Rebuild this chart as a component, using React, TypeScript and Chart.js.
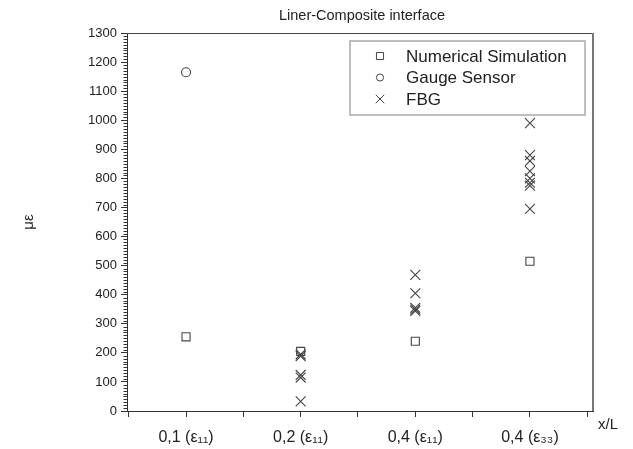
import React, { useEffect, useRef } from 'react';
import { Chart, registerables } from 'chart.js';

Chart.register(...registerables);

const chartTitle = 'Liner-Composite interface';
const xAxisLabel = 'x/L';
const yAxisLabel = 'με';
const categories = ['0,1 (ε₁₁)', '0,2 (ε₁₁)', '0,4 (ε₁₁)', '0,4 (ε₃₃)'];
const seriesNames = ['Numerical Simulation', 'Gauge Sensor', 'FBG'];
const numericalSimulation = [255, 205, 240, 515];
const gaugeSensor: (number | null)[] = [1165, null, null, null];
const fbg01: number[] = [];
const fbg02 = [195, 189, 124, 115, 33];
const fbg04e11 = [468, 405, 355, 349, 344];
const fbg04e33 = [990, 880, 860, 825, 800, 785, 775, 695];
const fbgByCategory = [fbg01, fbg02, fbg04e11, fbg04e33];
const yTickValues = [0, 100, 200, 300, 400, 500, 600, 700, 800, 900, 1000, 1100, 1200, 1300];
const xTickValues = [0.5, 1, 1.5, 2, 2.5, 3, 3.5, 4, 4.5];

const FONT = '"Liberation Sans", Arial, sans-serif';
const MARK = '#444';

const drawMarker = (ctx: CanvasRenderingContext2D, style: string, x: number, y: number, r: number) => {
  ctx.beginPath();
  if (style === 'rect') {
    const s = r * Math.SQRT1_2;
    ctx.rect(x - s, y - s, 2 * s, 2 * s);
  } else if (style === 'circle') {
    ctx.arc(x, y, r, 0, Math.PI * 2);
  } else {
    const s = r * Math.SQRT1_2;
    ctx.moveTo(x - s, y - s);
    ctx.lineTo(x + s, y + s);
    ctx.moveTo(x - s, y + s);
    ctx.lineTo(x + s, y - s);
  }
  ctx.stroke();
};

const decorPlugin = {
  id: 'decor',
  afterDraw(chart: any) {
    const { ctx, chartArea: a, scales } = chart;
    const ys = scales.y;
    ctx.save();
    // minor y ticks
    ctx.strokeStyle = '#333';
    ctx.lineWidth = 1;
    for (let v = 0; v <= 1300; v += 10) {
      if (v % 100 === 0) continue;
      const py = Math.round(ys.getPixelForValue(v)) + 0.5;
      ctx.beginPath();
      ctx.moveTo(a.left - 3.5, py);
      ctx.lineTo(a.left + 0.5, py);
      ctx.stroke();
    }
    // top border
    ctx.strokeStyle = '#444';
    ctx.lineWidth = 1;
    ctx.beginPath();
    ctx.moveTo(a.left, Math.round(a.top) + 0.5);
    ctx.lineTo(a.right, Math.round(a.top) + 0.5);
    ctx.stroke();
    // right border
    ctx.strokeStyle = '#777';
    ctx.lineWidth = 2;
    ctx.beginPath();
    ctx.moveTo(a.right, a.top);
    ctx.lineTo(a.right, a.bottom);
    ctx.stroke();
    // title
    ctx.fillStyle = '#222';
    ctx.font = `14.5px ${FONT}`;
    ctx.textAlign = 'center';
    ctx.textBaseline = 'middle';
    ctx.fillText(chartTitle, (a.left + a.right) / 2 + 2, 16);
    // x axis label
    ctx.font = `15px ${FONT}`;
    ctx.textAlign = 'left';
    ctx.fillText(xAxisLabel, a.right + 5, a.bottom + 14);
    // legend
    const lx = a.right - 243;
    const ly = a.top + 8;
    const lw = 235;
    const lh = 74;
    ctx.fillStyle = '#fff';
    ctx.fillRect(lx, ly, lw, lh);
    ctx.strokeStyle = '#aaa';
    ctx.lineWidth = 1.5;
    ctx.strokeRect(lx, ly, lw, lh);
    const styles = ['rect', 'circle', 'crossRot'];
    const radii = [5, 3.6, 6];
    chart.data.datasets.forEach((ds: any, i: number) => {
      const ry = ly + 15 + i * 21.5;
      ctx.strokeStyle = MARK;
      ctx.lineWidth = 1;
      drawMarker(ctx, styles[i], lx + 30, ry, radii[i]);
      ctx.fillStyle = '#222';
      ctx.font = `17px ${FONT}`;
      ctx.textAlign = 'left';
      ctx.textBaseline = 'middle';
      ctx.fillText(ds.label, lx + 56, ry + 1);
    });
    ctx.restore();
  },
};

export default function App() {
  const ref = useRef<HTMLCanvasElement | null>(null);
  useEffect(() => {
    if (!ref.current) return;
    Chart.defaults.font.family = FONT;
    const numPts = numericalSimulation.map((v, i) => ({ x: i + 1, y: v }));
    const gaugePts = gaugeSensor
      .map((v, i) => (v === null ? null : { x: i + 1, y: v }))
      .filter((p) => p !== null);
    const fbgPts: { x: number; y: number }[] = [];
    fbgByCategory.forEach((arr, i) => arr.forEach((v) => fbgPts.push({ x: i + 1, y: v })));
    const chart = new Chart(ref.current, {
      type: 'scatter',
      data: {
        datasets: [
          {
            label: seriesNames[0],
            data: numPts,
            pointStyle: 'rect',
            pointRadius: 5.7,
            borderColor: MARK,
            backgroundColor: 'rgba(0,0,0,0)',
            borderWidth: 1.1,
          },
          {
            label: seriesNames[1],
            data: gaugePts as any,
            pointStyle: 'circle',
            pointRadius: 4.5,
            borderColor: MARK,
            backgroundColor: 'rgba(0,0,0,0)',
            borderWidth: 1.1,
          },
          {
            label: seriesNames[2],
            data: fbgPts,
            pointStyle: 'crossRot',
            pointRadius: 7,
            borderColor: MARK,
            backgroundColor: 'rgba(0,0,0,0)',
            borderWidth: 1.1,
          },
        ],
      },
      options: {
        animation: false,
        responsive: false,
        maintainAspectRatio: false,
        layout: { padding: { top: 33, right: 40, left: 0, bottom: 0 } },
        plugins: { legend: { display: false }, tooltip: { enabled: false }, title: { display: false } },
        scales: {
          x: {
            type: 'linear',
            min: 0.485,
            max: 4.55,
            afterBuildTicks: (s: any) => {
              s.ticks = xTickValues.map((v) => ({ value: v }));
            },
            afterFit: (s: any) => {
              s.height = 38;
            },
            ticks: {
              autoSkip: false,
              maxRotation: 0,
              padding: 11,
              color: '#222',
              font: { size: 16 },
              callback: (v: any) => (Number.isInteger(v) ? categories[v - 1] : ''),
            },
            grid: { drawOnChartArea: false, drawTicks: true, tickLength: 6, color: '#333' },
            border: { display: true, color: '#333', width: 1 },
          },
          y: {
            type: 'linear',
            min: 0,
            max: 1300,
            afterBuildTicks: (s: any) => {
              s.ticks = yTickValues.map((v) => ({ value: v }));
            },
            afterFit: (s: any) => {
              s.width = 127;
            },
            ticks: {
              autoSkip: false,
              padding: 4,
              color: '#222',
              font: { size: 13 },
              callback: (v: any) => String(v),
            },
            grid: { drawOnChartArea: false, drawTicks: true, tickLength: 6, color: '#333' },
            border: { display: true, color: '#333', width: 1 },
            title: {
              display: true,
              text: yAxisLabel,
              color: '#222',
              font: { size: 15 },
              padding: { top: 20, bottom: 0 },
            },
          },
        },
      },
      plugins: [decorPlugin],
    });
    return () => chart.destroy();
  }, []);
  return (
    <div style={{ position: 'absolute', left: 0, top: 0, width: 633, height: 449, background: '#fff' }}>
      <canvas ref={ref} width={633} height={449} style={{ width: 633, height: 449, display: 'block' }} />
    </div>
  );
}
